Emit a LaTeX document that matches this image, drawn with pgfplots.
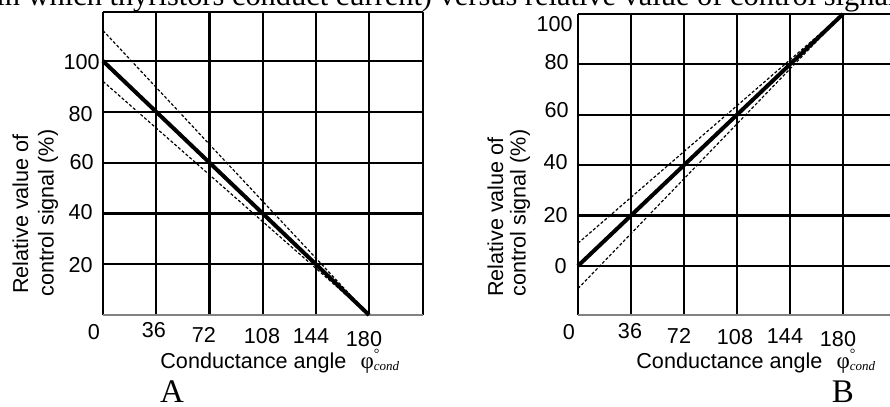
\documentclass[border=0pt]{standalone}
\usepackage{fontspec}
\setmainfont{Liberation Sans}
\newfontfamily\serif{Liberation Serif}
\usepackage{pgfplots}
\pgfplotsset{compat=1.18}
\definecolor{axgray}{RGB}{130,130,130}
\newcommand\lbl{\fontsize{10.8}{12.9}\selectfont}
\newcommand\phicond{{\serif\fontsize{11.5}{13}\selectfont φ\rlap{\raisebox{5pt}{\fontsize{7}{8}\selectfont °}}\raisebox{-1pt}{\fontsize{6.5}{7}\selectfont\itshape cond}}}
\pgfplotsset{
  panel/.style={
    scale only axis,
    anchor=south west,
    xticklabel=\empty, yticklabel=\empty,
    major tick length=0pt,
    grid=major,
    major grid style={black, line width=1.1pt},
    axis line style={draw=none},
    clip=false,
  },
  thickline/.style={black, line width=2pt},
  dashline/.style={black, line width=0.6pt, dash pattern=on 1.5pt off 1pt},
}
\begin{document}
\begin{tikzpicture}
\useasboundingbox (0,0) rectangle (445pt,-203.5pt);
\clip (0,0) rectangle (445pt,-203.5pt);

% ---------- Panel A ----------
\begin{axis}[panel,
  width=160pt, height=151.5pt,
  at={(51.5pt,-157.5pt)},
  xmin=0, xmax=216.5, ymin=0, ymax=119.3,
  xtick={0,36,72,108,144,180}, ytick={20,40,60,80,100},
]
\draw[black, line width=1.1pt] (rel axis cs:0,0) -- (rel axis cs:0,1);
\draw[black, line width=0.8pt] (rel axis cs:0,1) -- (rel axis cs:1,1);
\draw[black, line width=0.6pt] (rel axis cs:1,1) -- (rel axis cs:1,0);
\draw[axgray, line width=1pt] (rel axis cs:0,0) -- (rel axis cs:1,0);
\addplot[dashline] coordinates {(0,112) (180,0)};
\addplot[dashline] coordinates {(0,92) (180,0)};
\addplot[thickline] coordinates {(0,100) (180,0)};
\end{axis}

% ---------- Panel B ----------
\begin{axis}[panel,
  width=159pt, height=150.5pt,
  at={(289pt,-157.5pt)},
  xmin=0, xmax=216, ymin=-19.5, ymax=100,
  xtick={36,72,108,144,180}, ytick={0,20,40,60,80},
]
\draw[black, line width=1.1pt] (rel axis cs:0,0) -- (rel axis cs:0,1);
\draw[black, line width=0.8pt] (rel axis cs:0,1) -- (rel axis cs:1,1);
\draw[axgray, line width=1pt] (rel axis cs:0,0) -- (rel axis cs:1,0);
\addplot[dashline] coordinates {(0,9) (180,100)};
\addplot[dashline] coordinates {(0,-9) (180,100)};
\addplot[thickline] coordinates {(0,0) (180,100)};
\end{axis}

% ---------- Texts (pixel coordinates) ----------
\begin{scope}[x=0.5pt,y=-0.5pt, every node/.style={inner sep=0pt, font=\lbl}]
% title (cut at the top, as in the source figure)
\node[anchor=base west, font=\serif\fontsize{15.2}{18}\selectfont] at (-58,5)
  {within which thyristors conduct current) versus relative value of control signal};
% Panel A ticks
\node[anchor=east] at (100,62.5) {100};
\node[anchor=east] at (93,114) {80};
\node[anchor=east] at (94,162) {60};
\node[anchor=east] at (93,212) {40};
\node[anchor=east] at (93,265) {20};
\node at (94,332) {0};
\node at (154,330) {36};
\node at (204,335) {72};
\node at (262,336) {108};
\node at (311,336) {144};
\node at (364,339) {180};
\node[rotate=90, anchor=base] at (28,214) {Relative value of};
\node[rotate=90, anchor=base] at (53.6,213) {control signal (\%)};
\node[anchor=base west] at (160,368) {Conductance angle\hspace{7pt}\phicond};
\node[anchor=base, font=\serif\fontsize{16.5}{18}\selectfont] at (172,402) {A};
% Panel B ticks
\node[anchor=east] at (573,24) {100};
\node[anchor=east] at (569,62) {80};
\node[anchor=east] at (569,110) {60};
\node[anchor=east] at (568,162) {40};
\node[anchor=east] at (568,215) {20};
\node[anchor=east] at (567,266) {0};
\node at (569,332) {0};
\node at (630,331) {36};
\node at (679,336) {72};
\node at (735,337) {108};
\node at (785,336) {144};
\node at (838,339) {180};
\node[rotate=90, anchor=base] at (503,217) {Relative value of};
\node[rotate=90, anchor=base] at (525.6,213) {control signal (\%)};
\node[anchor=base west] at (636,368) {Conductance angle\hspace{7pt}\phicond};
\node[anchor=base, font=\serif\fontsize{16.5}{18}\selectfont] at (843,402) {B};
\end{scope}
\end{tikzpicture}
\end{document}
